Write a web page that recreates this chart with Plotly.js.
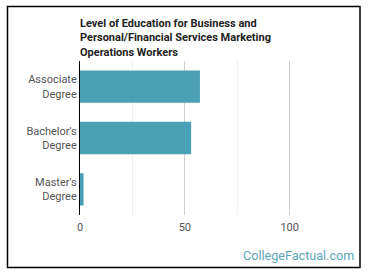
<!DOCTYPE html>
<html><head><meta charset="utf-8">
<script src="https://cdn.plot.ly/plotly-3.0.1.min.js"></script>
<style>html,body{margin:0;padding:0;background:#fff;}</style>
</head><body>
<div id="chart" style="width:370px;height:278px;"></div>
<script>
var categories = ["Associate<br>Degree", "Bachelor's<br>Degree", "Master's<br>Degree"];
var values = [57.2, 53.0, 1.7];
var xTicks = [0, 50, 100];
var minorTicks = [25, 75];

var L = 80, R = 30, T = 61, B = 63, W = 370, H = 278;
var pw = W - L - R, ph = H - T - B;
function px(x){ return (x - L) / pw; }
function py(y){ return (H - B - y) / ph; }

var shapes = [{type:'rect', xref:'paper', yref:'paper', x0:px(7.5), x1:px(360), y0:py(267.5), y1:py(6.5), line:{color:'#000000', width:1.5}, fillcolor:'rgba(0,0,0,0)'}];
minorTicks.forEach(function(v){
  shapes.push({type:'line', xref:'x', yref:'paper', x0:v, x1:v, y0:0, y1:1, line:{color:'#ededed', width:1}, layer:'below'});
});

Plotly.newPlot('chart', [{
  type:'bar', orientation:'h', y:categories, x:values,
  marker:{color:'#4aa0b4'}, width:0.63, hoverinfo:'none'
}], {
  width:W, height:H, margin:{l:L, r:R, t:T, b:B},
  paper_bgcolor:'#fff', plot_bgcolor:'#fff',
  font:{family:'Roboto, sans-serif', size:11, color:'#555'},
  title:{text:'<b>Level of Education for Business and<br>Personal/Financial Services Marketing<br>Operations Workers</b>',
    font:{family:'Roboto, sans-serif', size:11, color:'#222'},
    xref:'paper', x:0, xanchor:'left', yref:'container', y:1-27/H, yanchor:'top'},
  xaxis:{range:[0,124], tickvals:xTicks, showgrid:true, gridcolor:'#cfcfcf', gridwidth:1, zeroline:false, showline:false, ticks:'', ticklabelstandoff:4, tickfont:{size:11, color:'#555'}, fixedrange:true},
  yaxis:{autorange:'reversed', showline:true, linecolor:'#000', linewidth:1, ticks:'', ticklabelstandoff:0, tickfont:{size:11, color:'#555'}, showgrid:false, fixedrange:true},
  shapes:shapes,
  annotations:[{text:'CollegeFactual.com', xref:'paper', yref:'paper', x:px(356), y:py(255), xanchor:'right', yanchor:'middle', showarrow:false, font:{family:'Roboto, sans-serif', size:12.6, color:'#5aa6b8'}}],
  showlegend:false
}, {displayModeBar:false, staticPlot:true});
</script>
</body></html>
